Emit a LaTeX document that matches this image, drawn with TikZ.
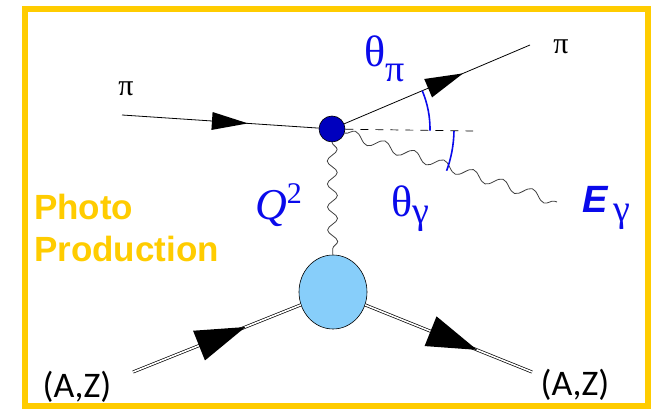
\documentclass[tikz,border=0pt]{standalone}
\usepackage{fontspec}
\setmainfont{Liberation Serif}
\newfontfamily\boxfont{Liberation Sans}
\newfontfamily\nucfont{Carlito}
\usetikzlibrary{arrows.meta,calc,shapes.geometric,decorations.markings,decorations.pathmorphing}
\definecolor{framegold}{RGB}{255,204,0}
\definecolor{labelblue}{RGB}{10,10,235}
\definecolor{vtxblue}{RGB}{0,0,190}
\definecolor{blobblue}{RGB}{135,206,250}

\begin{document}
\begin{tikzpicture}[x=1pt,y=1pt]
\tikzset{
  vertexnode/.style={circle,draw=black,fill=vtxblue,minimum size=26pt,inner sep=0pt,line width=0.6pt},
  blobnode/.style={ellipse,draw=black,fill=blobblue,minimum width=68pt,minimum height=74pt,inner sep=0pt,line width=0.6pt},
  pionline/.style={line width=0.8pt},
  nucline/.style={double=white,double distance=1.6pt,line width=0.7pt},
  midtip/.style n args={3}{postaction={decorate},
    decoration={markings,mark=at position #1 with {\fill[black] (0pt,0pt) -- (-#2,#3) -- (-#2,-#3) -- cycle;}}},
  photon/.style={decorate,decoration={snake,segment length=#1,amplitude=5pt},line width=0.8pt,black!75},
  photon/.default=24pt,
  anglearc/.style={labelblue,line width=1.6pt},
  pilabel/.style={inner sep=0pt,font=\fontsize{30}{30}\selectfont},
  bluelabel/.style={inner sep=0pt,text=labelblue,font=\fontsize{44}{44}\selectfont},
  nuclabel/.style={inner sep=0pt,font=\nucfont\fontsize{36}{36}\selectfont}
}
\useasboundingbox (0,0) rectangle (656,409);
\draw[framegold,line width=6pt] (25,3) rectangle (647.5,400);

% vertices
\node[vertexnode] (n_v) at (332,280) {};
\node[blobnode] (n_blob) at (333,117) {};
\coordinate (c_pin) at (122,294);
\coordinate (c_pout) at (530,364);
\coordinate (c_axis) at (473,278);
\coordinate (c_gamma) at (557,207);
\coordinate (c_ain) at (133,37);
\coordinate (c_aout) at (532,37);

% pion lines
\draw[pionline,midtip={0.64}{36pt}{9pt}] (c_pin) -- (n_v);
\draw[pionline,midtip={0.64}{38pt}{10pt}] (n_v) -- (c_pout);
\draw[line width=0.7pt,dash pattern=on 8pt off 7pt] (n_v) -- (c_axis);

% photons
\draw[photon=31pt] (n_v) -- (c_gamma);
\draw[photon=23pt] (n_v) -- (n_blob);

% nucleus lines
\draw[nucline] (c_ain) -- (n_blob);
\path[midtip={0.67}{50pt}{16pt}] (c_ain) -- (n_blob);
\draw[nucline] (n_blob) -- (c_aout);
\path[midtip={0.67}{50pt}{16pt}] (n_blob) -- (c_aout);

% angles
\draw[anglearc] ($(n_v)+(-1:98pt)$) arc[start angle=-1,end angle=23,radius=98pt];
\draw[anglearc] ($(n_v)+(-1:122pt)$) arc[start angle=-1,end angle=-20,radius=122pt];

% labels
\node[pilabel] (l_pin) at (126,320) {π};
\node[pilabel] (l_pout) at (561,362) {π};
\node[bluelabel,anchor=base west] (l_thpi) at (364,342) {θ\raisebox{-15pt}{\fontsize{38}{38}\selectfont π}};
\node[bluelabel,anchor=base west] (l_thg) at (391,192) {θ\raisebox{-7pt}{\fontsize{38}{38}\selectfont γ}};
\node[bluelabel,anchor=base west] (l_eg) at (582,196) {{\boxfont\bfseries\itshape\fontsize{38}{38}\selectfont E}\hspace{6pt}\raisebox{-9pt}{\fontsize{38}{38}\selectfont γ}};
\node[bluelabel,anchor=base west] (l_q) at (255,189) {{\itshape\fontsize{44}{44}\selectfont Q}\raisebox{16pt}{\fontsize{30}{30}\selectfont 2}};
\node[inner sep=0pt,anchor=north west,align=left,text=framegold,font=\boxfont\bfseries\fontsize{35}{42}\selectfont] (l_photo) at (34,215) {Photo\\Production};
\node[nuclabel] (l_ain) at (77,22) {(A,Z)};
\node[nuclabel] (l_aout) at (575,24) {(A,Z)};
\end{tikzpicture}
\end{document}
